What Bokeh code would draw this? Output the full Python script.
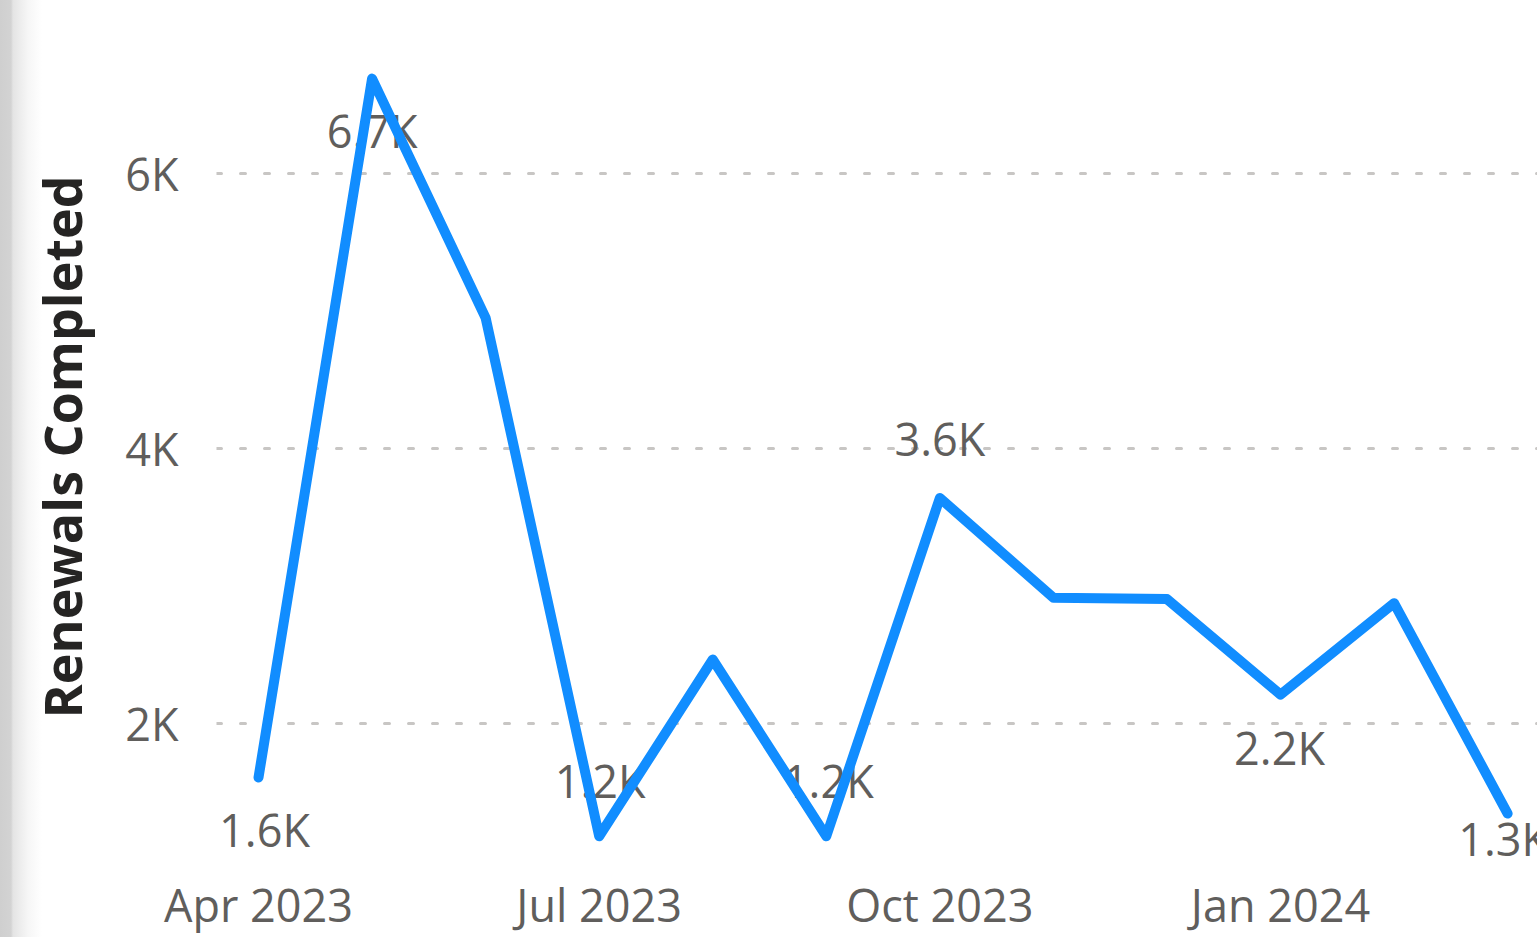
from bokeh.plotting import figure
from bokeh.models import ColumnDataSource, FixedTicker, Range1d
from bokeh.embed import file_html
from bokeh.resources import INLINE
from bokeh.core.properties import value

# ---- data ----
months = ["Apr 2023", "May 2023", "Jun 2023", "Jul 2023", "Aug 2023", "Sep 2023",
          "Oct 2023", "Nov 2023", "Dec 2023", "Jan 2024", "Feb 2024", "Mar 2024"]
renewals = [1607, 6690, 4950, 1180, 2465, 1180, 3640, 2915, 2905, 2210, 2875, 1345]
data_labels = ["1.6K", "6.7K", "", "1.2K", "", "1.2K", "3.6K", "", "", "2.2K", "", "1.3K"]
x_tick_months = ["Apr 2023", "Jul 2023", "Oct 2023", "Jan 2024"]
y_ticks = [2000, 4000, 6000]
y_tick_labels = ["2K", "4K", "6K"]
y_title = "Renewals Completed"

# ---- styles ----
label_dx = [6, 0, 0, 1, 0, 2, 0, 0, 0, -1, 0, -4]
label_dy = [52, 52, 0, -56, 0, -56, -59, 0, 0, 53, 0, 25]
FONT = "Open Sans"
GRAY = "#605E5C"
BLUE = "#118DFF"

xi = list(range(len(months)))

p = figure(width=1537, height=937, output_backend="svg", toolbar_location=None,
           x_range=Range1d(-0.37, 11.263), y_range=Range1d(960, 7258),
           min_border_left=216, min_border_right=0, min_border_top=0,
           min_border_bottom=71)
p.outline_line_color = None
p.background_fill_color = "white"
p.border_fill_alpha = 0
# side-panel shadow at the left edge, shown through the transparent border
p.styles = {"background": "linear-gradient(to right, #cfcfcf 0px, #d3d3d3 11px, "
                          "#e4e4e4 13px, #f6f6f6 28px, #ffffff 42px)"}

# grid
p.xgrid.grid_line_color = None
p.ygrid.ticker = FixedTicker(ticks=y_ticks)
p.ygrid.grid_line_color = "#C8C6C4"
p.ygrid.grid_line_width = 3
p.ygrid.grid_line_dash = "5 19"
p.ygrid.grid_line_cap = "round"

# axes
for ax in (p.xaxis[0], p.yaxis[0]):
    ax.axis_line_color = None
    ax.major_tick_line_color = None
    ax.minor_tick_line_color = None
    ax.major_tick_out = 0
    ax.major_tick_in = 0
    ax.minor_tick_out = 0
    ax.major_label_text_font = FONT
    ax.major_label_text_font_size = "45px"
    ax.major_label_text_color = GRAY

p.yaxis.ticker = FixedTicker(ticks=y_ticks)
p.yaxis.major_label_overrides = {t: l for t, l in zip(y_ticks, y_tick_labels)}
p.yaxis.major_label_standoff = 38
# two trailing no-break spaces nudge the centred title slightly downward
p.yaxis.axis_label = y_title + "\u00a0\u00a0"
p.yaxis.axis_label_text_font = FONT
p.yaxis.axis_label_text_font_style = "bold"
p.yaxis.axis_label_text_font_size = "52px"
p.yaxis.axis_label_text_color = "#252423"
p.yaxis.axis_label_standoff = 25

x_ticks = [months.index(m) for m in x_tick_months]
p.xaxis.ticker = FixedTicker(ticks=x_ticks)
p.xaxis.major_label_overrides = {t: m for t, m in zip(x_ticks, x_tick_months)}
p.xaxis.major_label_standoff = 7

# data labels (under the line)
idx = [i for i, l in enumerate(data_labels) if l]
lab_src = ColumnDataSource(dict(
    x=[xi[i] for i in idx], y=[renewals[i] for i in idx],
    text=[data_labels[i] for i in idx],
    dx=[label_dx[i] for i in idx], dy=[label_dy[i] for i in idx]))
p.text(x="x", y="y", text="text", x_offset="dx", y_offset="dy", source=lab_src,
       text_font=value(FONT), text_font_size="45px", text_color=GRAY,
       text_align="center", text_baseline="alphabetic")

# line
p.line(xi, renewals, line_color=BLUE, line_width=10, line_join="round", line_cap="round")

open("out.html", "w").write(file_html(p, INLINE))
